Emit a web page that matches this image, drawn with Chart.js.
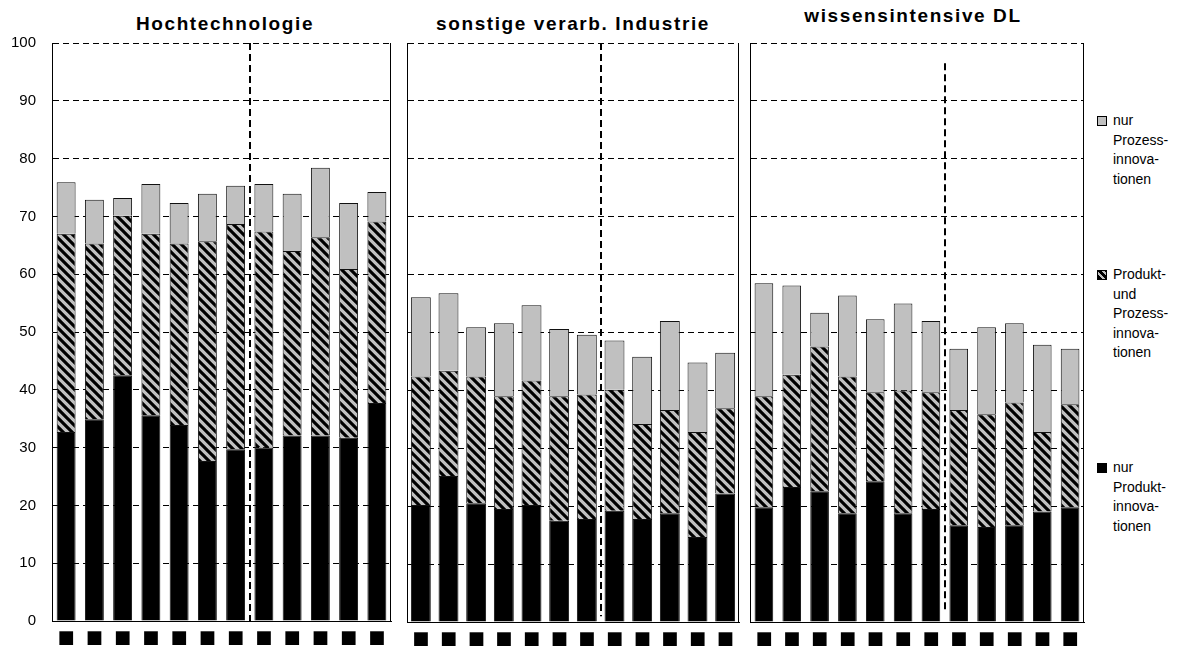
<!DOCTYPE html>
<html lang="de">
<head>
<meta charset="utf-8">
<title>Innovatorenanteile nach Sektor</title>
<script src="https://cdn.jsdelivr.net/npm/chart.js@4.4.1/dist/chart.umd.min.js"></script>
<style>
  html, body { margin: 0; padding: 0; background: #fff; }
  #wrap { position: relative; width: 1197px; height: 646px; overflow: hidden; font-family: "Liberation Sans", Arial, sans-serif; color: #000; }
  .panel { position: absolute; top: 0; height: 646px; }
  .title { position: absolute; width: 340px; font-weight: bold; font-size: 19px; line-height: 19px; letter-spacing: 1.6px; text-align: center; white-space: nowrap; }
  .leg { position: absolute; left: 1097px; font-size: 14px; line-height: 19.5px; }
  .sw { position: absolute; left: 0; width: 8px; height: 8px; border: 1px solid #000; }
  .lt { position: absolute; left: 16px; top: 0; white-space: nowrap; }
</style>
</head>
<body>
<div id="wrap">
  <div class="title" style="left:55px;top:14px">Hochtechnologie</div>
  <div class="title" style="left:403px;top:14px">sonstige verarb. Industrie</div>
  <div class="title" style="left:743px;top:6px">wissensintensive DL</div>

  <div class="panel" style="left:0;width:400px"><canvas id="c1"></canvas></div>
  <div class="panel" style="left:400px;width:345px"><canvas id="c2"></canvas></div>
  <div class="panel" style="left:745px;width:345px"><canvas id="c3"></canvas></div>

  <div class="leg" style="top:111px">
    <span class="sw" style="top:5px;background:#c0c0c0"></span>
    <span class="lt">nur<br>Prozess-<br>innova-<br>tionen</span>
  </div>
  <div class="leg" style="top:265px">
    <span class="sw" style="top:5px;background:repeating-linear-gradient(45deg,#000 0 3px,#c0c0c0 3px 5px)"></span>
    <span class="lt">Produkt-<br>und<br>Prozess-<br>innova-<br>tionen</span>
  </div>
  <div class="leg" style="top:458px">
    <span class="sw" style="top:5px;background:#000"></span>
    <span class="lt">nur<br>Produkt-<br>innova-<br>tionen</span>
  </div>
</div>

<script>
// x labels (glyphs as shown in the source picture)
const categories = ["■", "■", "■", "■", "■", "■", "■", "■", "■", "■", "■", "■"];
const yTicks = [0, 10, 20, 30, 40, 50, 60, 70, 80, 90, 100];

// Hochtechnologie
const hiProd = [32.7, 34.9, 42.5, 35.6, 33.9, 27.7, 29.7, 30.0, 32.1, 32.1, 31.7, 37.7];
const hiBoth = [34.3, 30.4, 27.6, 31.4, 31.4, 38.0, 39.0, 37.4, 31.9, 34.3, 29.2, 31.4];
const hiProc = [8.9, 7.6, 3.1, 8.6, 7.0, 8.2, 6.6, 8.2, 9.9, 12.0, 11.4, 5.1];

// sonstige verarb. Industrie
const indProd = [20.2, 25.2, 20.5, 19.5, 20.2, 17.5, 17.8, 19.2, 17.8, 18.8, 14.7, 22.2];
const indBoth = [22.2, 18.2, 21.9, 19.5, 21.5, 21.5, 21.5, 20.9, 16.4, 17.8, 18.1, 14.7];
const indProc = [13.7, 13.4, 8.5, 12.6, 13.0, 11.6, 10.3, 8.5, 11.6, 15.4, 12.0, 9.6];

// wissensintensive DL
const dlProd = [19.8, 23.3, 22.6, 18.8, 24.3, 18.8, 19.5, 16.7, 16.4, 16.7, 19.1, 19.8];
const dlBoth = [19.2, 19.4, 25.0, 23.6, 15.4, 21.2, 20.2, 19.9, 19.5, 21.2, 13.7, 17.8];
const dlProc = [19.5, 15.4, 5.8, 14.0, 12.6, 15.0, 12.3, 10.6, 15.0, 13.7, 15.1, 9.6];

const GREY = "#c0c0c0";

function makeHatch() {
  const n = 9;
  const c = document.createElement("canvas");
  c.width = n; c.height = n;
  const g = c.getContext("2d");
  g.fillStyle = GREY; g.fillRect(0, 0, n, n);
  g.strokeStyle = "#000"; g.lineWidth = 3.1;
  g.beginPath();
  for (const x of [-n, 0, n]) { g.moveTo(x - 2, -2); g.lineTo(x + n + 2, n + 2); }
  g.stroke();
  return g.createPattern(c, "repeat");
}
const hatch = makeHatch();

// right frame line + dashed split line between the two periods
const framePlugin = {
  id: "frame",
  afterDatasetsDraw(chart, args, o) {
    const { ctx, chartArea: a, scales: { x, y } } = chart;
    ctx.save();
    ctx.strokeStyle = "#000";
    ctx.lineWidth = 1;
    const xr = Math.round(a.right) - 0.5;
    ctx.beginPath(); ctx.moveTo(xr, a.top); ctx.lineTo(xr, a.bottom); ctx.stroke();
    const xm = Math.round((x.getPixelForValue(o.split - 1) + x.getPixelForValue(o.split)) / 2);
    ctx.setLineDash([7, 4]);
    ctx.lineWidth = 2;
    ctx.beginPath(); ctx.moveTo(xm, y.getPixelForValue(o.from)); ctx.lineTo(xm, y.getPixelForValue(o.to)); ctx.stroke();
    ctx.restore();
  }
};

function makeChart(id, prod, both, proc, cfg) {
  const ctx = document.getElementById(id);
  return new Chart(ctx, {
    type: "bar",
    data: {
      labels: categories,
      datasets: [
        { label: "nur Produktinnovationen", data: prod, backgroundColor: "#000" },
        { label: "Produkt- und Prozessinnovationen", data: both, backgroundColor: hatch },
        { label: "nur Prozessinnovationen", data: proc, backgroundColor: GREY }
      ].map((d) => ({ ...d, borderColor: "#111", borderWidth: 1, barPercentage: cfg.barPct, categoryPercentage: 1 }))
    },
    options: {
      responsive: true,
      maintainAspectRatio: false,
      animation: false,
      layout: { padding: { top: 43, bottom: 0, left: cfg.padLeft, right: cfg.padRight } },
      scales: {
        x: {
          stacked: true,
          grid: { display: false },
          border: { display: true, color: "#000", width: 1 },
          ticks: { autoSkip: false, maxRotation: 0, padding: 0, color: "#000", font: { family: "DejaVu Sans", size: 18, lineHeight: 1 } },
          afterFit: (s) => { s.height = 24; }
        },
        y: {
          stacked: true,
          min: 0, max: 100,
          afterBuildTicks: (s) => { s.ticks = yTicks.map((v) => ({ value: v })); },
          grid: { color: "#000", lineWidth: 1, drawTicks: false },
          border: { display: true, color: "#000", width: 1, dash: [6, 4] },
          ticks: { display: cfg.showY, padding: 16, color: "#000", font: { family: "Liberation Sans", size: 15 } },
          afterFit: (s) => { s.width = cfg.yWidth; }
        }
      },
      plugins: {
        legend: { display: false },
        tooltip: { enabled: false },
        frame: { split: 7, from: cfg.splitFrom, to: cfg.splitTo }
      }
    },
    plugins: [framePlugin]
  });
}

makeChart("c1", hiProd, hiBoth, hiProc, { barPct: 0.67, padLeft: 0, padRight: 9, yWidth: 52, showY: true, splitFrom: 100, splitTo: 0 });
makeChart("c2", indProd, indBoth, indProc, { barPct: 0.72, padLeft: 7, padRight: 6, yWidth: 0, showY: false, splitFrom: 100, splitTo: 1 });
makeChart("c3", dlProd, dlBoth, dlProc, { barPct: 0.67, padLeft: 5, padRight: 6, yWidth: 0, showY: false, splitFrom: 96.5, splitTo: 2 });
</script>
</body>
</html>
